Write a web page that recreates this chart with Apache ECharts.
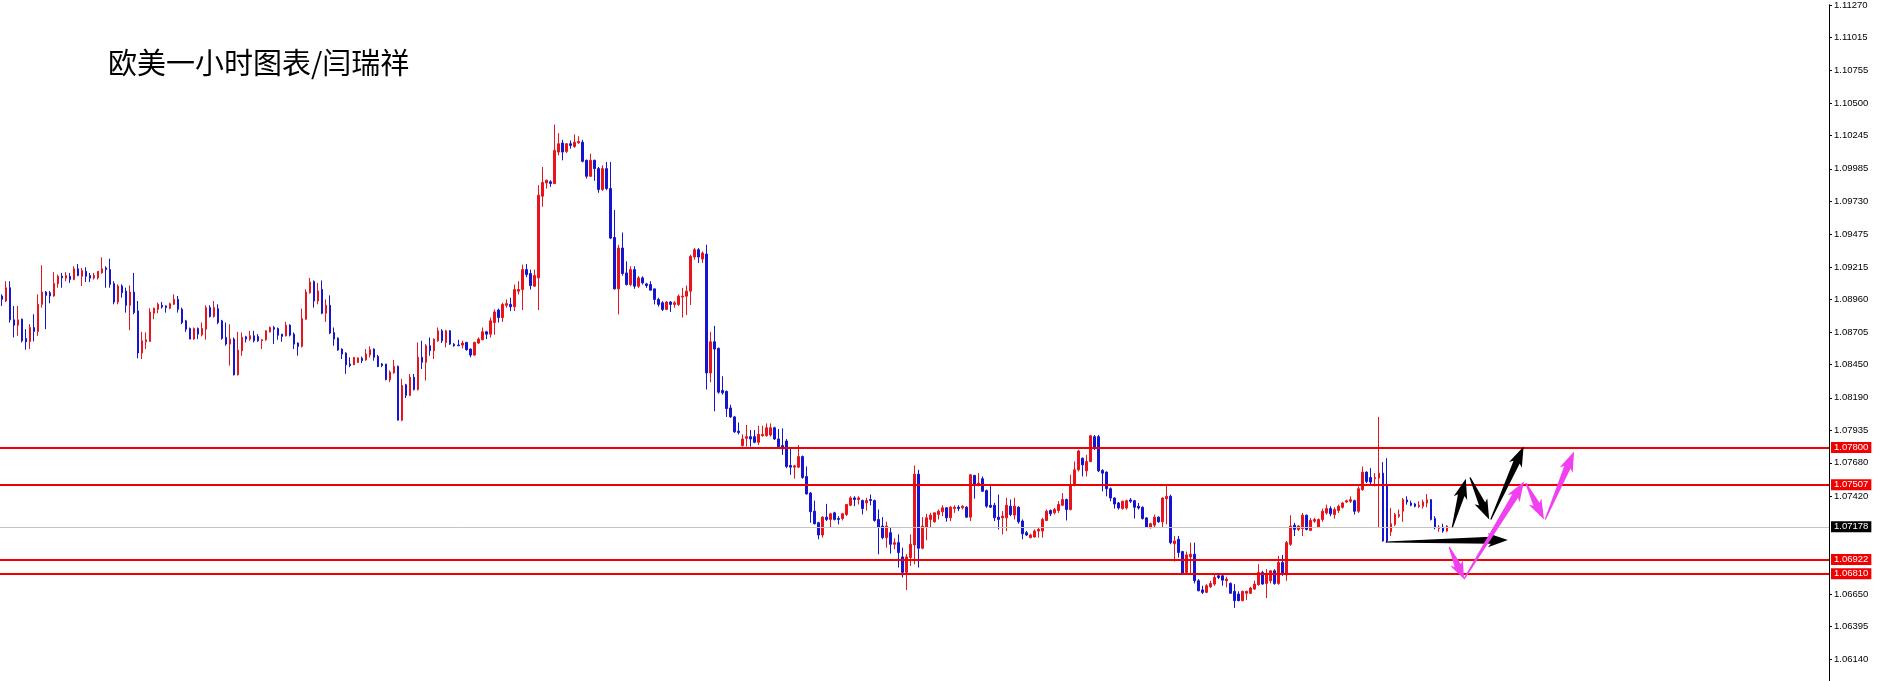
<!DOCTYPE html>
<html><head><meta charset="utf-8">
<script src="https://cdn.jsdelivr.net/npm/echarts@6/dist/echarts.min.js"></script>
<style>html,body{margin:0;padding:0;background:#fff}#c{width:1877px;height:681px}</style>
</head><body><div id="c"></div>
<script>
const chartTitle = '欧美一小时图表/闫瑞祥';
// each candle: [open, close, low, high]
const candles = [
[1.08988,1.08962,1.08910,1.09001],[1.08949,1.09053,1.08941,1.09104],[1.09053,1.08801,1.08780,1.09104],[1.08801,1.08759,1.08663,1.08910],
[1.08759,1.08801,1.08676,1.08910],[1.08806,1.08637,1.08624,1.08811],[1.08655,1.08629,1.08567,1.08728],[1.08632,1.08741,1.08572,1.08767],
[1.08741,1.08710,1.08632,1.08845],[1.08710,1.08923,1.08676,1.09001],[1.08923,1.09019,1.08897,1.09229],[1.09019,1.08993,1.08728,1.09027],
[1.09014,1.08988,1.08931,1.09027],[1.08988,1.09086,1.08982,1.09175],[1.09084,1.09143,1.09053,1.09156],[1.09143,1.09130,1.09053,1.09169],
[1.09128,1.09149,1.09104,1.09175],[1.09143,1.09117,1.09091,1.09169],[1.09117,1.09201,1.09112,1.09221],[1.09201,1.09149,1.09143,1.09239],
[1.09143,1.09188,1.09066,1.09208],[1.09182,1.09143,1.09097,1.09213],[1.09149,1.09128,1.09097,1.09169],[1.09130,1.09149,1.09117,1.09169],
[1.09130,1.09182,1.09117,1.09182],[1.09169,1.09201,1.09164,1.09291],[1.09208,1.09195,1.09053,1.09221],[1.09195,1.09079,1.09053,1.09281],
[1.09086,1.08941,1.08923,1.09104],[1.08941,1.09066,1.08923,1.09079],[1.09066,1.09014,1.08975,1.09079],[1.09027,1.08915,1.08858,1.09053],
[1.08915,1.09019,1.08720,1.09071],[1.09019,1.08858,1.08845,1.09169],[1.08871,1.08541,1.08500,1.08949],[1.08541,1.08637,1.08494,1.08707],
[1.08629,1.08645,1.08572,1.08702],[1.08632,1.08863,1.08629,1.08892],[1.08853,1.08892,1.08806,1.08897],[1.08884,1.08923,1.08853,1.08936],
[1.08915,1.08902,1.08889,1.08941],[1.08910,1.08897,1.08858,1.08915],[1.08892,1.08928,1.08884,1.08936],[1.08923,1.08962,1.08918,1.09001],
[1.08962,1.08884,1.08858,1.08988],[1.08884,1.08780,1.08767,1.08897],[1.08793,1.08728,1.08707,1.08801],[1.08733,1.08650,1.08650,1.08741],
[1.08650,1.08733,1.08645,1.08741],[1.08733,1.08689,1.08650,1.08741],[1.08684,1.08733,1.08671,1.08780],[1.08728,1.08897,1.08645,1.08915],
[1.08897,1.08827,1.08819,1.08915],[1.08827,1.08897,1.08819,1.08949],[1.08889,1.08780,1.08767,1.08923],[1.08793,1.08655,1.08645,1.08801],
[1.08663,1.08611,1.08598,1.08780],[1.08611,1.08650,1.08442,1.08767],[1.08650,1.08370,1.08365,1.08663],[1.08370,1.08564,1.08365,1.08707],
[1.08559,1.08663,1.08520,1.08702],[1.08668,1.08650,1.08624,1.08676],[1.08650,1.08676,1.08637,1.08715],[1.08676,1.08637,1.08624,1.08715],
[1.08671,1.08637,1.08629,1.08689],[1.08637,1.08645,1.08572,1.08650],[1.08645,1.08715,1.08637,1.08720],[1.08707,1.08741,1.08702,1.08749],
[1.08741,1.08728,1.08611,1.08754],[1.08733,1.08681,1.08645,1.08741],[1.08689,1.08671,1.08629,1.08689],[1.08676,1.08759,1.08671,1.08785],
[1.08759,1.08681,1.08671,1.08767],[1.08689,1.08611,1.08572,1.08702],[1.08619,1.08593,1.08520,1.08624],[1.08593,1.08811,1.08585,1.08889],
[1.08806,1.09019,1.08801,1.09040],[1.09014,1.09097,1.09006,1.09130],[1.09102,1.08949,1.08897,1.09110],[1.08949,1.09027,1.08923,1.09091],
[1.09040,1.08853,1.08845,1.09110],[1.08853,1.08915,1.08785,1.08962],[1.08915,1.08697,1.08689,1.08993],[1.08702,1.08650,1.08598,1.08741],
[1.08658,1.08564,1.08559,1.08663],[1.08572,1.08533,1.08494,1.08577],[1.08541,1.08448,1.08378,1.08546],[1.08455,1.08442,1.08430,1.08507],
[1.08448,1.08507,1.08448,1.08507],[1.08468,1.08502,1.08463,1.08507],[1.08500,1.08481,1.08463,1.08513],[1.08487,1.08533,1.08481,1.08572],
[1.08526,1.08567,1.08507,1.08593],[1.08572,1.08507,1.08481,1.08577],[1.08513,1.08435,1.08430,1.08526],[1.08455,1.08442,1.08430,1.08463],
[1.08455,1.08333,1.08326,1.08455],[1.08331,1.08391,1.08313,1.08404],[1.08385,1.08437,1.08378,1.08487],[1.08437,1.08014,1.08014,1.08442],
[1.08014,1.08286,1.08006,1.08338],[1.08292,1.08209,1.08188,1.08299],[1.08209,1.08351,1.08203,1.08377],[1.08351,1.08255,1.08247,1.08377],
[1.08255,1.08507,1.08247,1.08624],[1.08507,1.08468,1.08416,1.08637],[1.08468,1.08598,1.08325,1.08611],[1.08598,1.08559,1.08520,1.08663],
[1.08559,1.08650,1.08494,1.08655],[1.08637,1.08715,1.08629,1.08741],[1.08715,1.08637,1.08619,1.08728],[1.08624,1.08715,1.08585,1.08723],
[1.08715,1.08611,1.08603,1.08720],[1.08611,1.08598,1.08590,1.08619],[1.08603,1.08598,1.08598,1.08645],[1.08603,1.08619,1.08577,1.08637],
[1.08624,1.08567,1.08559,1.08629],[1.08572,1.08525,1.08507,1.08577],[1.08525,1.08624,1.08520,1.08629],[1.08619,1.08650,1.08611,1.08663],
[1.08645,1.08707,1.08642,1.08741],[1.08707,1.08689,1.08650,1.08715],[1.08689,1.08793,1.08663,1.08819],[1.08780,1.08863,1.08684,1.08883],
[1.08878,1.08819,1.08780,1.08889],[1.08819,1.08922,1.08785,1.08935],[1.08915,1.08928,1.08896,1.08961],[1.08922,1.08904,1.08870,1.08974],
[1.08904,1.09039,1.08870,1.09078],[1.09026,1.09039,1.09000,1.09104],[1.09039,1.09195,1.08878,1.09234],[1.09195,1.09156,1.09135,1.09239],
[1.09164,1.09070,1.09039,1.09195],[1.09065,1.09148,1.09060,1.09195],[1.09130,1.09779,1.08878,1.09857],[1.09771,1.09878,1.09688,1.10000],
[1.09875,1.09896,1.09831,1.09901],[1.09883,1.09870,1.09844,1.09896],[1.09870,1.10130,1.09865,1.10332],[1.10117,1.10182,1.10091,1.10265],
[1.10187,1.10117,1.10052,1.10213],[1.10122,1.10182,1.10109,1.10187],[1.10182,1.10169,1.10143,1.10207],[1.10161,1.10194,1.10150,1.10254],
[1.10189,1.10200,1.10182,1.10241],[1.10194,1.10044,1.10036,1.10213],[1.10052,1.09927,1.09909,1.10057],[1.09927,1.10052,1.09922,1.10104],
[1.10052,1.09987,1.09891,1.10057],[1.09987,1.09823,1.09797,1.10000],[1.09823,1.09987,1.09813,1.10013],[1.09987,1.09831,1.09818,1.10039],
[1.09831,1.09442,1.09434,1.10039],[1.09447,1.09044,1.09039,1.09662],[1.09044,1.09364,1.08844,1.09390],[1.09364,1.09164,1.09148,1.09486],
[1.09169,1.09078,1.09070,1.09260],[1.09078,1.09195,1.09065,1.09221],[1.09195,1.09065,1.09044,1.09221],[1.09065,1.09130,1.09052,1.09143],
[1.09130,1.09091,1.09078,1.09143],[1.09083,1.09070,1.09052,1.09091],[1.09078,1.09034,1.09034,1.09104],[1.09044,1.08961,1.08922,1.09044],
[1.08961,1.08922,1.08904,1.08974],[1.08935,1.08883,1.08870,1.08948],[1.08883,1.08941,1.08878,1.08948],[1.08941,1.08922,1.08863,1.08948],
[1.08922,1.08935,1.08896,1.08948],[1.08922,1.08987,1.08909,1.09000],[1.08980,1.08987,1.08819,1.09052],[1.08987,1.09026,1.08839,1.09070],
[1.09026,1.09299,1.08917,1.09312],[1.09294,1.09351,1.09273,1.09364],[1.09351,1.09294,1.09247,1.09364],[1.09278,1.09325,1.09247,1.09338],
[1.09317,1.08385,1.08255,1.09390],[1.08385,1.08629,1.08312,1.08707],[1.08629,1.08572,1.08084,1.08754],[1.08577,1.08234,1.08222,1.08585],
[1.08247,1.08229,1.08214,1.08359],[1.08240,1.08105,1.08040,1.08247],[1.08110,1.08040,1.08032,1.08136],[1.08040,1.07923,1.07915,1.08048],
[1.07928,1.07918,1.07902,1.07996],
[1.07815,1.07867,1.07807,1.07903],[1.07872,1.07885,1.07807,1.07976],[1.07885,1.07867,1.07807,1.07937],[1.07885,1.07841,1.07833,1.07937],
[1.07841,1.07903,1.07820,1.07971],[1.07893,1.07903,1.07885,1.07971],[1.07893,1.07955,1.07885,1.07989],[1.07898,1.07955,1.07885,1.07989],
[1.07955,1.07867,1.07859,1.07963],[1.07867,1.07807,1.07789,1.07945],[1.07815,1.07789,1.07742,1.07950],[1.07851,1.07651,1.07638,1.07867],
[1.07659,1.07646,1.07586,1.07794],[1.07646,1.07656,1.07555,1.07664],[1.07646,1.07729,1.07638,1.07820],[1.07729,1.07565,1.07555,1.07737],
[1.07573,1.07436,1.07431,1.07651],[1.07443,1.07296,1.07210,1.07451],[1.07301,1.07202,1.07197,1.07384],[1.07210,1.07114,1.07080,1.07218],
[1.07114,1.07254,1.07093,1.07262],[1.07254,1.07236,1.07223,1.07358],[1.07236,1.07280,1.07171,1.07288],[1.07288,1.07236,1.07228,1.07296],
[1.07244,1.07236,1.07197,1.07262],[1.07244,1.07280,1.07228,1.07288],[1.07275,1.07353,1.07262,1.07358],[1.07347,1.07405,1.07340,1.07418],
[1.07405,1.07392,1.07340,1.07418],[1.07392,1.07405,1.07353,1.07418],[1.07384,1.07322,1.07275,1.07392],[1.07366,1.07384,1.07306,1.07405],
[1.07392,1.07384,1.07347,1.07431],[1.07384,1.07228,1.07218,1.07392],[1.07236,1.07176,1.06963,1.07314],[1.07184,1.07093,1.07080,1.07254],
[1.07093,1.07184,1.07015,1.07218],[1.07132,1.07041,1.06968,1.07176],[1.07041,1.07054,1.07002,1.07088],[1.07054,1.06976,1.06859,1.07119],
[1.06942,1.06821,1.06781,1.07015],[1.06821,1.06942,1.06683,1.06963],[1.06937,1.07041,1.06872,1.07119],[1.07036,1.07591,1.06885,1.07659],
[1.07591,1.07010,1.06859,1.07625],[1.07010,1.07184,1.07002,1.07254],[1.07176,1.07249,1.07072,1.07280],[1.07236,1.07270,1.07171,1.07288],
[1.07218,1.07288,1.07210,1.07288],[1.07275,1.07301,1.07236,1.07314],[1.07296,1.07327,1.07262,1.07347],[1.07327,1.07249,1.07218,1.07332],
[1.07249,1.07332,1.07223,1.07340],[1.07322,1.07332,1.07288,1.07347],[1.07332,1.07322,1.07301,1.07347],[1.07327,1.07340,1.07314,1.07347],
[1.07332,1.07254,1.07249,1.07340],[1.07254,1.07586,1.07223,1.07591],[1.07581,1.07503,1.07399,1.07586],[1.07508,1.07521,1.07495,1.07599],
[1.07555,1.07457,1.07451,1.07573],[1.07462,1.07340,1.07327,1.07470],[1.07347,1.07332,1.07327,1.07503],[1.07347,1.07249,1.07223,1.07366],
[1.07254,1.07236,1.07158,1.07431],[1.07249,1.07262,1.07119,1.07301],[1.07249,1.07347,1.07145,1.07405],[1.07340,1.07275,1.07262,1.07392],
[1.07270,1.07340,1.07236,1.07405],[1.07332,1.07218,1.07202,1.07340],[1.07223,1.07124,1.07080,1.07236],[1.07132,1.07114,1.07106,1.07145],
[1.07093,1.07114,1.07088,1.07124],[1.07098,1.07145,1.07093,1.07158],[1.07145,1.07158,1.07093,1.07176],[1.07145,1.07236,1.07093,1.07249],
[1.07228,1.07301,1.07223,1.07314],[1.07306,1.07280,1.07262,1.07314],[1.07288,1.07314,1.07275,1.07327],[1.07306,1.07353,1.07288,1.07379],
[1.07347,1.07392,1.07340,1.07443],[1.07392,1.07314,1.07228,1.07399],[1.07314,1.07508,1.07306,1.07586],[1.07503,1.07625,1.07495,1.07690],
[1.07625,1.07773,1.07612,1.07781],[1.07716,1.07664,1.07573,1.07721],[1.07617,1.07690,1.07573,1.07742],[1.07690,1.07893,1.07685,1.07898],
[1.07885,1.07794,1.07781,1.07898],[1.07885,1.07617,1.07607,1.07898],
[1.07620,1.07599,1.07456,1.07630],[1.07607,1.07477,1.07417,1.07612],[1.07477,1.07404,1.07378,1.07487],[1.07404,1.07357,1.07321,1.07409],
[1.07365,1.07326,1.07313,1.07373],[1.07321,1.07378,1.07313,1.07383],[1.07326,1.07383,1.07313,1.07391],[1.07389,1.07378,1.07365,1.07404],
[1.07383,1.07331,1.07243,1.07389],[1.07339,1.07326,1.07313,1.07365],[1.07331,1.07243,1.07235,1.07339],[1.07248,1.07176,1.07171,1.07254],
[1.07171,1.07202,1.07165,1.07210],[1.07191,1.07254,1.07176,1.07274],[1.07254,1.07217,1.07210,1.07261],[1.07217,1.07404,1.07176,1.07409],
[1.07399,1.07417,1.07197,1.07508],[1.07417,1.07054,1.07041,1.07430],[1.07046,1.07067,1.06906,1.07106],[1.07080,1.06976,1.06937,1.07106],
[1.06984,1.06812,1.06807,1.06989],[1.06820,1.06958,1.06807,1.06984],[1.06942,1.06963,1.06807,1.07054],[1.06963,1.06755,1.06734,1.07054],
[1.06755,1.06677,1.06672,1.06768],[1.06683,1.06664,1.06651,1.06716],[1.06664,1.06716,1.06657,1.06729],[1.06708,1.06734,1.06698,1.06755],
[1.06729,1.06781,1.06716,1.06802],[1.06794,1.06781,1.06768,1.06807],[1.06794,1.06760,1.06716,1.06802],[1.06755,1.06768,1.06703,1.06786],
[1.06734,1.06657,1.06651,1.06742],[1.06672,1.06599,1.06542,1.06729],[1.06651,1.06599,1.06594,1.06672],[1.06599,1.06672,1.06594,1.06677],
[1.06657,1.06672,1.06605,1.06677],[1.06657,1.06698,1.06651,1.06708],[1.06690,1.06729,1.06683,1.06755],[1.06724,1.06820,1.06716,1.06885],
[1.06820,1.06729,1.06724,1.06833],[1.06734,1.06812,1.06620,1.06846],[1.06755,1.06833,1.06734,1.06838],[1.06833,1.06734,1.06724,1.06846],
[1.06734,1.06898,1.06724,1.06950],[1.06898,1.06807,1.06794,1.06958],[1.06802,1.07054,1.06755,1.07067],[1.07041,1.07184,1.07028,1.07269],
[1.07191,1.07158,1.07106,1.07210],[1.07158,1.07184,1.07145,1.07191],[1.07165,1.07269,1.07106,1.07287],[1.07269,1.07158,1.07150,1.07274],
[1.07150,1.07228,1.07145,1.07248],[1.07222,1.07235,1.07210,1.07248],[1.07176,1.07235,1.07171,1.07243],[1.07235,1.07300,1.07217,1.07321],
[1.07287,1.07321,1.07274,1.07352],[1.07321,1.07280,1.07261,1.07339],[1.07274,1.07313,1.07243,1.07331],[1.07306,1.07339,1.07287,1.07352],
[1.07331,1.07365,1.07321,1.07373],[1.07373,1.07383,1.07365,1.07391],[1.07378,1.07391,1.07365,1.07417],[1.07383,1.07300,1.07274,1.07391],
[1.07300,1.07477,1.07287,1.07495],[1.07469,1.07607,1.07461,1.07651],[1.07607,1.07534,1.07521,1.07612],[1.07565,1.07529,1.07508,1.07638],
[1.07555,1.07565,1.07495,1.07599],[1.07560,1.07599,1.07171,1.08040],[1.07599,1.07067,1.07062,1.07685],[1.07508,1.07067,1.07054,1.07716],
[1.07139,1.07202,1.07106,1.07326],[1.07197,1.07274,1.07184,1.07287],[1.07261,1.07274,1.07248,1.07313],[1.07300,1.07391,1.07217,1.07404],
[1.07389,1.07373,1.07352,1.07417],[1.07365,1.07347,1.07339,1.07383],[1.07357,1.07339,1.07331,1.07365],[1.07337,1.07347,1.07326,1.07378],
[1.07339,1.07373,1.07321,1.07391],[1.07365,1.07391,1.07331,1.07435],[1.07391,1.07235,1.07228,1.07396],[1.07243,1.07171,1.07158,1.07261],
[1.07165,1.07176,1.07139,1.07191],[1.07176,1.07145,1.07132,1.07202],[1.07145,1.07184,1.07139,1.07191]
];
const slotCount = 457; // bar slots across the plot, incl. empty space on the right
const priceTicks = [1.11270,1.11015,1.10755,1.10500,1.10245,1.09985,1.09730,1.09475,1.09215,1.08960,1.08705,1.08450,1.08190,1.07935,1.07680,1.07420,1.06650,1.06395,1.06140];
const levelPrices = [1.07800,1.07507,1.06922,1.06810];
const currentPrice = 1.07178;
const yMin = 1.05969, yMax = 1.11272;
// arrows: [tailSlot, tailPrice, tipSlot, tipPrice]
const blackArrows = [
  [346.25,1.07059,376.75,1.07075],
  [362.9,1.07176,366.25,1.07555],
  [367.3,1.07565,372.1,1.07236],
  [372.5,1.07236,380.7,1.07807]
];
const magentaArrows = [
  [362.1,1.07020,365.8,1.06768],
  [365.8,1.06768,380.8,1.07534],
  [381.25,1.07521,385.8,1.07236],
  [386.1,1.07236,393.3,1.07768]
];

const chart = echarts.init(document.getElementById('c'), null, {renderer:'canvas'});
const slots = Array.from({length: slotCount}, (_, i) => String(i));

function arrowRender(params, api) {
  const a = api.coord([api.value(0), api.value(1)]);
  const b = api.coord([api.value(2), api.value(3)]);
  const dx = b[0]-a[0], dy = b[1]-a[1];
  const L = Math.hypot(dx, dy) || 1;
  const ux = dx/L, uy = dy/L, nx = -uy, ny = ux;
  const hl = Math.min(17, L*0.42), hw = 7, sw = 3.4, tw = 0.6, sweep = 3;
  const bx = b[0]-ux*hl, by = b[1]-uy*hl;
  const pts = [
    [a[0]+nx*tw, a[1]+ny*tw],
    [bx+nx*sw, by+ny*sw],
    [bx+nx*hw - ux*sweep, by+ny*hw - uy*sweep],
    [b[0], b[1]],
    [bx-nx*hw - ux*sweep, by-ny*hw - uy*sweep],
    [bx-nx*sw, by-ny*sw],
    [a[0]-nx*tw, a[1]-ny*tw]
  ];
  return {type:'polygon', shape:{points:pts}, style:{fill: api.visual('color')}};
}

const labelFont = {fontSize: 9.5, fontFamily: 'Liberation Sans, Arial, sans-serif'};

chart.setOption({
  animation: false,
  backgroundColor: '#fff',
  title: {
    text: chartTitle, left: 108, top: 48, padding: 0,
    textStyle: {fontSize: 29, fontWeight: 'normal', color: '#000', fontFamily: '"Noto Sans CJK SC", sans-serif'}
  },
  grid: {left: 0, right: 48, top: 0, bottom: 0, containLabel: false},
  xAxis: [
    {type: 'category', data: slots, boundaryGap: true, show: false, axisLine: {onZero: false}},
    {type: 'value', min: 0, max: slotCount, show: false, axisLine: {onZero: false}}
  ],
  yAxis: {
    type: 'value', position: 'right', min: yMin, max: yMax,
    splitLine: {show: false},
    axisLine: {show: true, onZero: false, lineStyle: {color: '#000', width: 1}},
    axisTick: {show: true, length: 3, customValues: priceTicks, lineStyle: {color: '#000'}},
    axisLabel: Object.assign({customValues: priceTicks, formatter: v => Number(v).toFixed(5), color: '#000', margin: 5, verticalAlign: 'middle'}, labelFont)
  },
  series: [
    {
      type: 'candlestick', xAxisIndex: 0, yAxisIndex: 0,
      data: candles, barWidth: 2,
      itemStyle: {color: '#e8131b', color0: '#1414d2', borderColor: '#e8131b', borderColor0: '#1414d2', borderWidth: 1},
      markLine: {
        symbol: ['none', 'none'], silent: true, animation: false, precision: 5,
        data: levelPrices.map(p => ({
          yAxis: p,
          lineStyle: {color: '#f00000', width: 2, type: 'solid'},
          label: Object.assign({show: true, position: 'end', distance: 2, formatter: q => Number(q.value).toFixed(5),
            color: '#fff', backgroundColor: '#f00000', padding: [1, 3, 0, 3]}, labelFont)
        })).concat([{
          yAxis: currentPrice,
          lineStyle: {color: '#c4c4c4', width: 1, type: 'solid'},
          label: Object.assign({show: true, position: 'end', distance: 2, formatter: q => Number(q.value).toFixed(5),
            color: '#fff', backgroundColor: '#000', padding: [1, 3, 0, 3]}, labelFont)
        }])
      }
    },
    {
      type: 'custom', xAxisIndex: 1, yAxisIndex: 0, renderItem: arrowRender,
      itemStyle: {color: '#000'}, encode: {x: [0, 2], y: [1, 3]}, data: blackArrows, z: 5
    },
    {
      type: 'custom', xAxisIndex: 1, yAxisIndex: 0, renderItem: arrowRender,
      itemStyle: {color: '#f040f0'}, encode: {x: [0, 2], y: [1, 3]}, data: magentaArrows, z: 6
    }
  ]
});
</script>
</body></html>
